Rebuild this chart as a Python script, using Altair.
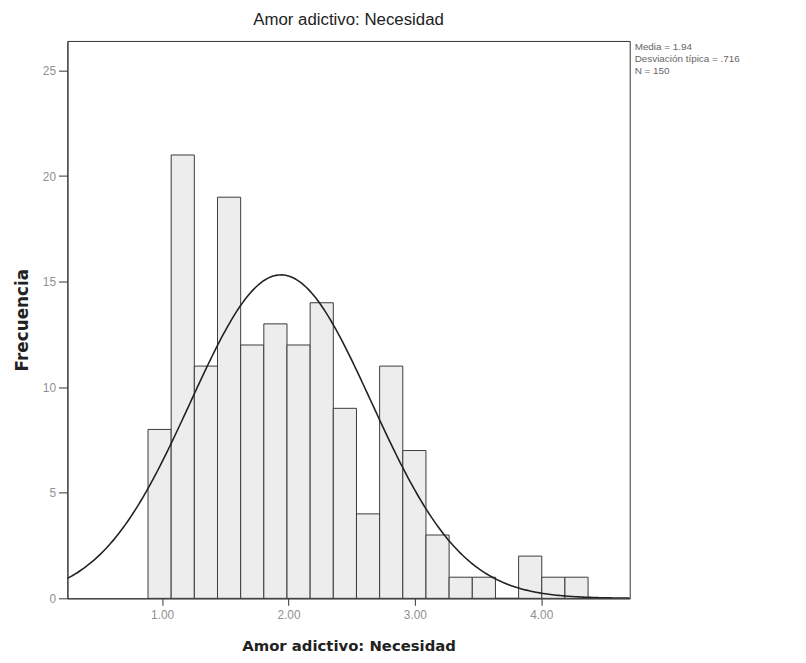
import altair as alt
import numpy as np
import pandas as pd

# ---- data ----
counts = [8, 21, 11, 19, 12, 13, 12, 14, 9, 4, 11, 7, 3, 1, 1, 0, 2, 1, 1]
bin_start = 0.888
bin_width = 0.1833
media = 1.94
desviacion = 0.716
n_total = 150
x_ticks = [1, 2, 3, 4]
y_ticks = [0, 5, 10, 15, 20, 25]
x_domain = [0.25, 4.70]
y_domain = [0, 26.4]
stats_lines = ["Media = 1.94", "Desviación típica = .716", "N = 150"]

lo = [bin_start + i * bin_width for i in range(len(counts))]
bars = pd.DataFrame({"lo": lo, "hi": [v + bin_width for v in lo], "count": counts})

# fitted normal curve (SPSS overlay) from mean, sd, N and bin width
xs = np.linspace(x_domain[0], x_domain[1], 300)
ys = n_total * bin_width / (desviacion * np.sqrt(2 * np.pi)) * np.exp(-0.5 * ((xs - media) / desviacion) ** 2)
curve = pd.DataFrame({"x": xs, "y": ys})

stats = pd.DataFrame({"t": ["\n".join(stats_lines)]})

W, H = 568, 563

xscale = alt.Scale(domain=x_domain, nice=False, zero=False)
yscale = alt.Scale(domain=y_domain, nice=False)

xaxis = alt.Axis(values=x_ticks, format=".2f", title="Amor adictivo: Necesidad",
                 grid=False, tickSize=7, labelPadding=4, titlePadding=19)
yaxis = alt.Axis(values=y_ticks, title="Frecuencia", grid=False, tickSize=9,
                 labelPadding=3, titlePadding=11, titleFontSize=17)

bar_layer = alt.Chart(bars).mark_rect(fill="#ededed", stroke="#3a3a3a", strokeWidth=1).encode(
    x=alt.X("lo:Q", scale=xscale, axis=xaxis),
    x2="hi:Q",
    y=alt.Y("count:Q", scale=yscale, axis=yaxis),
    y2=alt.datum(0),
)

line_layer = alt.Chart(curve).mark_line(color="#222222", strokeWidth=1.6, clip=True).encode(
    x=alt.X("x:Q", scale=xscale),
    y=alt.Y("y:Q", scale=yscale),
)

text_layer = alt.Chart(stats).mark_text(
    align="left", baseline="top", font="Liberation Sans", fontSize=10,
    color="#666666", lineBreak="\n", lineHeight=12
).encode(
    x=alt.value(W + 5),
    y=alt.value(1),
    text="t:N",
)

chart = alt.layer(bar_layer, line_layer, text_layer).properties(
    width=W,
    height=H,
    title=alt.TitleParams("Amor adictivo: Necesidad", font="Liberation Sans", fontSize=17,
                          fontWeight="normal", color="#222222", anchor="middle", offset=12),
    autosize=alt.AutoSizeParams(type="none"),
    padding={"left": 60, "top": 30, "right": 170, "bottom": 60},
).configure_view(
    stroke="#333333", strokeWidth=1
).configure_axis(
    domainColor="#333333", tickColor="#333333", labelColor="#909090",
    labelFont="Liberation Sans", labelFontSize=12,
    titleFont="DejaVu Sans", titleFontWeight="bold", titleFontSize=15, titleColor="#222222",
)

chart.save("out.html", embed_options={"renderer": "svg", "actions": False})
